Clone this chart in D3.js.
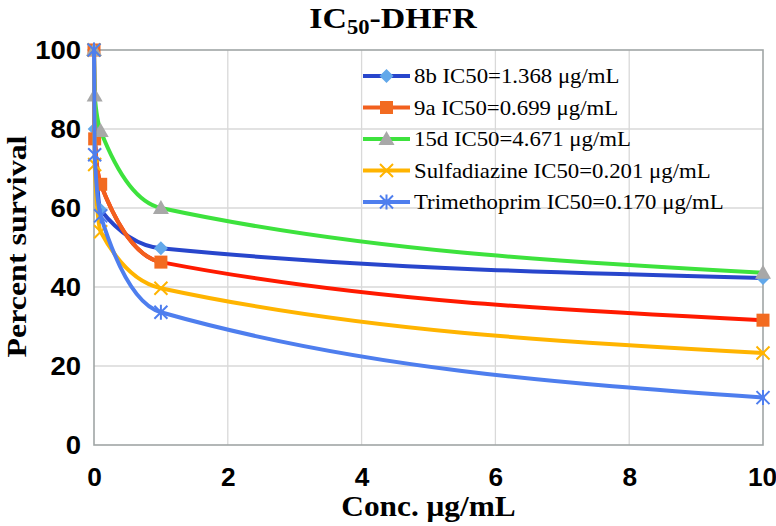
<!DOCTYPE html>
<html>
<head>
<meta charset="utf-8">
<script src="https://cdn.jsdelivr.net/npm/d3@7/dist/d3.min.js"></script>
<style>
  html, body { margin: 0; padding: 0; background: #fff; }
  svg { display: block; font-family: "Liberation Serif", "Times New Roman", serif; }
</style>
</head>
<body>
<svg id="chart" width="776" height="526"></svg>
<script>
// ---- data ----
const conc = [0, 0.01, 0.1, 1, 10];
const s8b = [100, 80, 59.5, 49.8, 42.3];
const s9a = [100, 77.5, 66, 46.3, 31.6];
const s15d = [100, 88.5, 79.5, 60, 43.6];
const sSulfa = [100, 71, 54, 39.7, 23.3];
const sTrim = [100, 73.5, 58, 33.6, 12];
const seriesNames = ["8b IC50=1.368 \u03bcg/mL", "9a IC50=0.699 \u03bcg/mL", "15d IC50=4.671 \u03bcg/mL",
                     "Sulfadiazine IC50=0.201 \u03bcg/mL", "Trimethoprim IC50=0.170 \u03bcg/mL"];
const xTicks = [0, 2, 4, 6, 8, 10];
const yTicks = [0, 20, 40, 60, 80, 100];

const styles = [
  {line: "#2846CC", marker: "diamond", fill: "#62A8EA"},
  {line: "#FF1A00", lineStart: "#F2601E", marker: "square", fill: "#F26B21"},
  {line: "#3DE23D", marker: "triangle", fill: "#A8A8A8"},
  {line: "#FFB400", marker: "cross", fill: "#FFB400"},
  {line: "#4E7EEE", marker: "star", fill: "#4E7EEE"}
];
const allSeries = [s8b, s9a, s15d, sSulfa, sTrim];

const svg = d3.select("#chart");
const L = 94, R = 763, T = 50, B = 445;
const x = d3.scaleLinear().domain([0, 10]).range([L, R]);
const y = d3.scaleLinear().domain([0, 100]).range([B, T]);

function stretchText(g, tx, ty, txt, opts) {
  return g.append("text")
    .attr("transform", `translate(${tx},${ty}) scale(${opts.sx},1)`)
    .attr("text-anchor", opts.anchor || "start")
    .attr("dominant-baseline", opts.baseline || "auto")
    .attr("font-size", opts.size)
    .attr("font-weight", opts.weight || "normal")
    .attr("fill", "#000")
    .text(txt);
}

// gridlines
const grid = svg.append("g");
grid.selectAll("line.h").data(yTicks.filter(d => d > 0 && d < 100)).join("line")
  .attr("x1", L).attr("x2", R).attr("y1", d => y(d)).attr("y2", d => y(d))
  .attr("stroke", "#D9D9D9").attr("stroke-width", 1.3);
grid.selectAll("line.v").data(xTicks.filter(d => d > 0 && d < 10)).join("line")
  .attr("y1", T).attr("y2", B).attr("x1", d => x(d)).attr("x2", d => x(d))
  .attr("stroke", "#D9D9D9").attr("stroke-width", 1.3);
svg.append("rect").attr("x", L).attr("y", T).attr("width", R - L).attr("height", B - T)
  .attr("fill", "none").attr("stroke", "#A0A6A6").attr("stroke-width", 1.6);

// axes (labels only)
const yAxis = d3.axisLeft(y).tickValues(yTicks).tickSize(0).tickPadding(0);
const xAxis = d3.axisBottom(x).tickValues(xTicks).tickSize(0).tickPadding(0);
const ya = svg.append("g").attr("transform", `translate(${L},0)`).call(yAxis);
ya.select(".domain").remove();
ya.selectAll(".tick text").remove();
ya.selectAll(".tick").each(function(d) {
  stretchText(d3.select(this), -13, 2, d, {anchor: "end", baseline: "middle", size: 25, weight: "bold", sx: 1.1});
});
const xa = svg.append("g").attr("transform", `translate(0,${B})`).call(xAxis);
xa.select(".domain").remove();
xa.selectAll(".tick text").remove();
xa.selectAll(".tick").each(function(d) {
  stretchText(d3.select(this), d === 10 ? -1 : 0, 41, d, {anchor: "middle", size: 25, weight: "bold", sx: 1.05});
});

// titles
const tt = svg.append("text")
  .attr("transform", `translate(393,28) scale(1.13,1)`)
  .attr("text-anchor", "middle").attr("font-size", 30).attr("font-weight", "bold");
tt.append("tspan").text("IC");
tt.append("tspan").attr("font-size", 20).attr("dy", 6).text("50");
tt.append("tspan").attr("dy", -6).text("-DHFR");

stretchText(svg, (L + R) / 2, 516, "Conc. \u03bcg/mL", {anchor: "middle", size: 29, weight: "bold", sx: 1.08});
svg.append("text")
  .attr("transform", `translate(26,${(T + B) / 2 - 1}) rotate(-90)`)
  .attr("text-anchor", "middle").attr("font-size", 28).attr("font-weight", "bold")
  .attr("textLength", 222).attr("lengthAdjust", "spacingAndGlyphs")
  .text("Percent survival");

// markers
function drawMarker(g, type, cx, cy, st) {
  if (type === "diamond") {
    const s = 7;
    g.append("path").attr("d", `M${cx},${cy - s}L${cx + s},${cy}L${cx},${cy + s}L${cx - s},${cy}Z`).attr("fill", st.fill);
  } else if (type === "square") {
    const s = 6.5;
    g.append("rect").attr("x", cx - s).attr("y", cy - s).attr("width", 2 * s).attr("height", 2 * s).attr("fill", st.fill);
  } else if (type === "triangle") {
    const s = 8;
    g.append("path").attr("d", `M${cx},${cy - s}L${cx + s},${cy + s * 0.75}L${cx - s},${cy + s * 0.75}Z`).attr("fill", st.fill);
  } else if (type === "cross") {
    const s = 6.5;
    g.append("path").attr("d", `M${cx - s},${cy - s}L${cx + s},${cy + s}M${cx - s},${cy + s}L${cx + s},${cy - s}`)
      .attr("stroke", st.fill).attr("stroke-width", 2);
  } else if (type === "star") {
    const s = 6.5;
    g.append("path").attr("d", `M${cx - s},${cy - s}L${cx + s},${cy + s}M${cx - s},${cy + s}L${cx + s},${cy - s}M${cx},${cy - s - 1}L${cx},${cy + s + 1}`)
      .attr("stroke", st.fill).attr("stroke-width", 2);
  }
}

const line = d3.line().x(d => x(d[0])).y(d => y(d[1])).curve(d3.curveMonotoneX);
svg.append("defs").append("clipPath").attr("id", "clipStart").append("rect")
  .attr("x", 0).attr("y", 0).attr("width", x(1)).attr("height", 526);

const plot = svg.append("g");
allSeries.forEach((vals, i) => {
  const pts = conc.map((c, j) => [c, vals[j]]);
  const st = styles[i];
  plot.append("path").attr("d", line(pts)).attr("fill", "none")
    .attr("stroke", st.line).attr("stroke-width", 4).attr("stroke-linecap", "round");
  if (st.lineStart) {
    plot.append("path").attr("d", line(pts)).attr("fill", "none").attr("clip-path", "url(#clipStart)")
      .attr("stroke", st.lineStart).attr("stroke-width", 4).attr("stroke-linecap", "round");
  }
  const mg = plot.append("g");
  pts.forEach(p => drawMarker(mg, st.marker, x(p[0]), y(p[1]), st));
});

// legend
const lg = svg.append("g");
const legY0 = 76, legDy = 31.5;
seriesNames.forEach((name, i) => {
  const st = styles[i];
  const yy = legY0 + i * legDy;
  lg.append("line").attr("x1", 363).attr("x2", 410).attr("y1", yy).attr("y2", yy)
    .attr("stroke", st.lineStart || st.line).attr("stroke-width", 4);
  drawMarker(lg, st.marker, 386.5, yy, st);
  stretchText(lg, 414, yy + 7, name, {size: 20, sx: 1.14});
});
</script>
</body>
</html>
